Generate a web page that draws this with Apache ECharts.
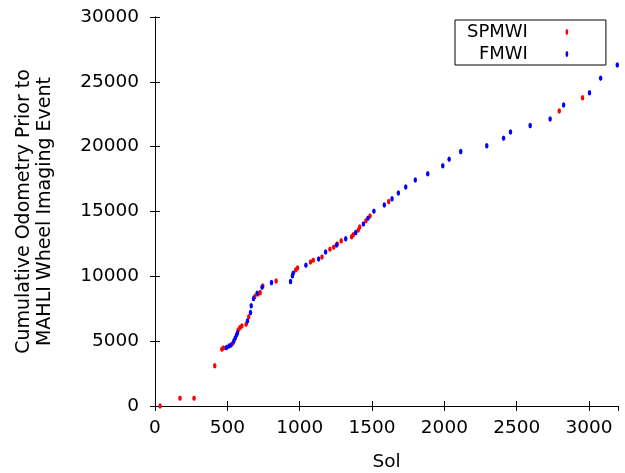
<!DOCTYPE html>
<html>
<head>
    <meta charset="utf-8">
    <title>Cumulative Odometry vs Sol</title>
    <script src="https://cdn.jsdelivr.net/npm/echarts@6/dist/echarts.min.js"></script>
</head>
<body style="margin:0">
    <div id="main" style="width:625px;height:473px;"></div>
    <script type="text/javascript">
        // [sol, cumulative odometry]
        var spmwi = [
            [35, 0], [173, 590], [270, 590], [413, 3110], [462, 4370], [473, 4470],
            [538, 4830], [575, 5860], [586, 6040], [600, 6170], [630, 6300], [648, 6890],
            [690, 8450], [713, 8640], [727, 8760], [745, 9250], [837, 9640], [972, 10490],
            [985, 10640], [1075, 11100], [1094, 11240], [1154, 11490], [1209, 12080],
            [1235, 12240], [1260, 12500], [1287, 12740], [1359, 13050], [1370, 13200],
            [1405, 13570], [1415, 13800], [1458, 14290], [1486, 14650], [1615, 15780],
            [2794, 22750], [2955, 23770]
        ];
        var fmwi = [
            [494, 4520], [512, 4630], [526, 4700], [545, 5010], [554, 5220], [563, 5450],
            [570, 5650], [639, 6550], [660, 7220], [665, 7730], [681, 8300], [706, 8690],
            [740, 9150], [805, 9530], [937, 9610], [950, 10050], [955, 10230], [1043, 10860],
            [1131, 11330], [1179, 11870], [1255, 12410], [1318, 12900], [1387, 13390],
            [1440, 14030], [1472, 14470], [1513, 15010], [1585, 15500], [1638, 15980],
            [1682, 16420], [1733, 16890], [1799, 17420], [1885, 17910], [1989, 18530],
            [2033, 19020], [2113, 19620], [2293, 20070], [2409, 20640], [2457, 21130],
            [2593, 21640], [2731, 22130], [2824, 23210], [3003, 24160], [3080, 25270],
            [3195, 26290]
        ];

        var myChart = echarts.init(document.getElementById('main'));
        var font = 'DejaVu Sans';
        var tickStyle = { show: true, inside: true, length: 5, lineStyle: { color: '#000' } };
        var lineStyle = { show: true, lineStyle: { color: '#000', width: 1 } };
        var plain = function (v) { return String(v); };
        // legend icon: small dot centred in a wide invisible box
        var legendIcon = 'path://M0,0 L0.01,0 M68,0 L68.01,0 M0,7 L0.01,7 M68,7 L68.01,7 ' +
            'M34,0.5 C35.8,0.5 35.8,6.5 34,6.5 C32.2,6.5 32.2,0.5 34,0.5 Z';

        var option = {
            animation: false,
            backgroundColor: '#fff',
            textStyle: { fontFamily: font },
            grid: { left: 155, right: 7, top: 17, bottom: 67, outerBoundsMode: 'none', containLabel: false },
            legend: {
                orient: 'vertical',
                left: 455, top: 20,
                padding: [2, 5, 1, 12],
                itemGap: 2,
                align: 'right',
                backgroundColor: '#fff',
                borderColor: '#000',
                borderWidth: 1,
                borderRadius: 0,
                itemWidth: 68,
                itemHeight: 7,
                textStyle: { fontSize: 18, lineHeight: 20, color: '#000', fontFamily: font },
                data: [
                    { name: 'SPMWI', icon: legendIcon },
                    { name: 'FMWI', icon: legendIcon }
                ]
            },
            xAxis: [{
                type: 'value', min: 0, max: 3200, interval: 500,
                name: 'Sol', nameLocation: 'middle', nameGap: 47,
                nameTextStyle: { fontSize: 18.5, color: '#000' },
                axisLine: lineStyle, axisTick: tickStyle,
                axisLabel: { fontSize: 18.5, color: '#000', margin: 13, showMaxLabel: false, formatter: plain },
                splitLine: { show: false }
            }, {
                type: 'value', min: 0, max: 3200, interval: 500, position: 'top',
                axisLine: lineStyle, axisTick: tickStyle,
                axisLabel: { show: false }, splitLine: { show: false }
            }],
            yAxis: [{
                type: 'value', min: 0, max: 30000, interval: 5000,
                name: 'Cumulative Odometry Prior to\nMAHLI Wheel Imaging Event',
                nameLocation: 'middle', nameGap: 99,
                nameTextStyle: { fontSize: 19, color: '#000', lineHeight: 21 },
                axisLine: lineStyle, axisTick: tickStyle,
                axisLabel: { fontSize: 18.5, color: '#000', margin: 16, formatter: plain },
                splitLine: { show: false }
            }, {
                type: 'value', min: 0, max: 30000, interval: 5000, position: 'right',
                axisLine: lineStyle, axisTick: tickStyle,
                axisLabel: { show: false }, splitLine: { show: false }
            }],
            series: [{
                name: 'SPMWI',
                type: 'scatter',
                symbol: 'circle',
                symbolSize: [3.5, 5.5],
                itemStyle: { color: '#ff0000', opacity: 1 },
                data: spmwi
            }, {
                name: 'FMWI',
                type: 'scatter',
                symbol: 'circle',
                symbolSize: [3.5, 5.5],
                itemStyle: { color: '#0000ff', opacity: 1 },
                data: fmwi
            }]
        };

        myChart.setOption(option);
    </script>
</body>
</html>
